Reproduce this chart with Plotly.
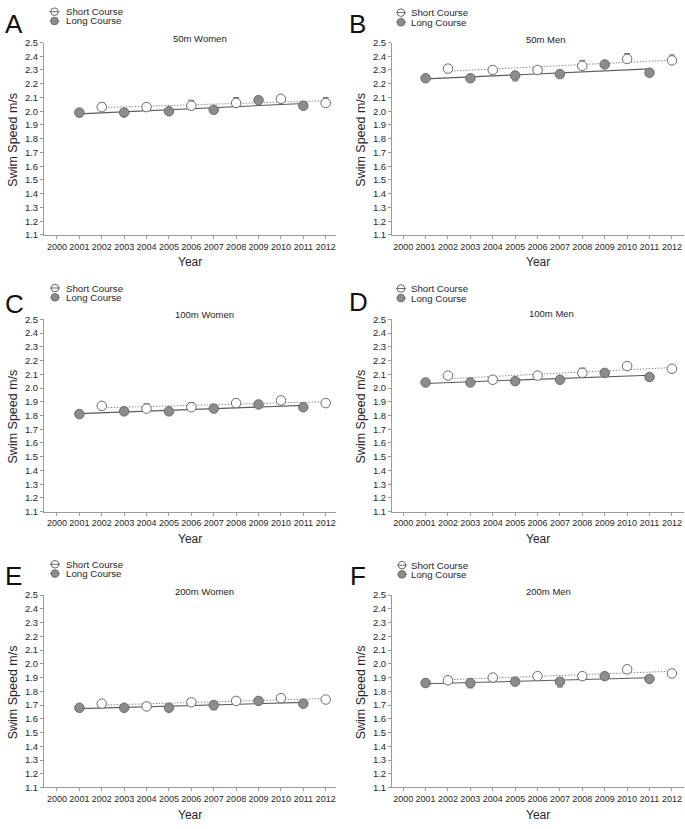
import numpy as np
import plotly.graph_objects as go

W, H = 685, 829

# ---------------- data ----------------
years_short = [2002, 2004, 2006, 2008, 2010, 2012]
years_long = [2001, 2003, 2005, 2007, 2009, 2011]
year_ticks = [2000, 2001, 2002, 2003, 2004, 2005, 2006, 2007, 2008, 2009, 2010, 2011, 2012]
speed_ticks = [1.1, 1.2, 1.3, 1.4, 1.5, 1.6, 1.7, 1.8, 1.9, 2.0, 2.1, 2.2, 2.3, 2.4, 2.5]

panel_letters = ["A", "B", "C", "D", "E", "F"]
panel_titles = ["50m Women", "50m Men", "100m Women", "100m Men", "200m Women", "200m Men"]
series_names = ["Short Course", "Long Course"]

short_50w = [2.03, 2.03, 2.04, 2.06, 2.09, 2.06]
long_50w = [1.99, 1.99, 2.00, 2.01, 2.08, 2.04]
short_50m = [2.31, 2.30, 2.30, 2.33, 2.38, 2.37]
long_50m = [2.24, 2.24, 2.26, 2.27, 2.34, 2.28]
short_100w = [1.87, 1.85, 1.86, 1.89, 1.91, 1.89]
long_100w = [1.81, 1.83, 1.83, 1.85, 1.88, 1.86]
short_100m = [2.09, 2.06, 2.09, 2.11, 2.16, 2.14]
long_100m = [2.04, 2.04, 2.05, 2.06, 2.11, 2.08]
short_200w = [1.71, 1.69, 1.72, 1.73, 1.75, 1.74]
long_200w = [1.68, 1.68, 1.68, 1.70, 1.73, 1.71]
short_200m = [1.88, 1.90, 1.91, 1.91, 1.96, 1.93]
long_200m = [1.86, 1.86, 1.87, 1.87, 1.91, 1.89]

# error values: short course shown upward, long course downward
short_err_50w = [0.03, 0.0, 0.04, 0.04, 0.0, 0.04]
long_err_50w = [0.03, 0.0, 0.0, 0.0, 0.0, 0.0]
short_err_50m = [0.0, 0.0, 0.0, 0.04, 0.04, 0.04]
long_err_50m = [0.0, 0.0, 0.04, 0.0, 0.0, 0.0]
short_err_100w = [0.0, 0.035, 0.035, 0.0, 0.0, 0.0]
long_err_100w = [0.0, 0.0, 0.0, 0.0, 0.0, 0.0]
short_err_100m = [0.0, 0.0, 0.0, 0.035, 0.0, 0.0]
long_err_100m = [0.0, 0.0, 0.0, 0.0, 0.0, 0.0]
short_err_200w = [0.0, 0.0, 0.0, 0.0, 0.0, 0.0]
long_err_200w = [0.0, 0.0, 0.0, 0.035, 0.0, 0.0]
short_err_200m = [0.0, 0.0, 0.0, 0.0, 0.0, 0.0]
long_err_200m = [0.0, 0.035, 0.0, 0.04, 0.0, 0.0]

short_series = [short_50w, short_50m, short_100w, short_100m, short_200w, short_200m]
long_series = [long_50w, long_50m, long_100w, long_100m, long_200w, long_200m]
short_errs = [short_err_50w, short_err_50m, short_err_100w, short_err_100m, short_err_200w, short_err_200m]
long_errs = [long_err_50w, long_err_50m, long_err_100w, long_err_100m, long_err_200w, long_err_200m]

# ---------------- styling / layout ----------------
FONT = "Liberation Sans, Arial, Helvetica, sans-serif"
TXT = "#262626"
AX = "#9a9a9a"
SHORT_LINE = "#8a8a8a"
LONG_LINE = "#5a5a5a"
LONG_FILL = "#8c8c8c"
MARK_EDGE = "#6a6a6a"

col_px = [(44, 336), (392, 684)]
col_range = [[1999.42, 2012.46], [1999.5, 2012.54]]
row_off = [0, 280.5, 560]
plot_top, plot_bot = 37, 232


def fx(px):
    return px / W


def fy(py):
    return 1 - py / H


fig = go.Figure()
layout = dict(
    width=W, height=H,
    margin=dict(l=0, r=0, t=0, b=0),
    paper_bgcolor="white", plot_bgcolor="white",
    showlegend=False,
    font=dict(family=FONT, color=TXT),
)
annotations = []
shapes = []

letter_pos = [(3, 18), (347, 18), (3, 302), (347, 300), (3, 578), (348, 578)]
title_pos = [(200, 33), (546, 34), (204, 313), (551, 312), (204, 593), (548, 593)]
legend_pos = [(54.5, 64.5, 5.8, 15.2), (401, 409.5, 6.7, 16.5), (55, 64.5, 285.8, 295.2),
              (401, 409.5, 286.3, 296), (55, 64.5, 565.8, 575.2), (402, 410, 566.7, 576)]

for i in range(6):
    col, row = i % 2, i // 2
    n = "" if i == 0 else str(i + 1)
    xa, ya = "xaxis" + n, "yaxis" + n
    xr, yr = "x" + n, "y" + n
    off = row_off[row]
    x0, x1 = col_px[col]
    layout[xa] = dict(
        domain=[fx(x0), fx(x1)], range=col_range[col], anchor=yr,
        tickvals=year_ticks, ticktext=[str(v) for v in year_ticks],
        showline=True, linecolor=AX, linewidth=1, ticks="outside", ticklen=3,
        tickcolor=AX, tickfont=dict(size=9, color=TXT, family=FONT),
        showgrid=False, zeroline=False, fixedrange=True,
    )
    layout[ya] = dict(
        domain=[fy(plot_bot + off), fy(plot_top + off)], range=[1.1, 2.5], anchor=xr,
        tickvals=speed_ticks, tickformat=".1f",
        showline=True, linecolor=AX, linewidth=1, ticks="outside", ticklen=3,
        tickcolor=AX, tickfont=dict(size=9.5, color=TXT, family=FONT),
        showgrid=False, zeroline=False, fixedrange=True,
    )

    s_vals, l_vals = short_series[i], long_series[i]
    ps = np.polyfit(years_short, s_vals, 1)
    pl = np.polyfit(years_long, l_vals, 1)
    xs_end = [years_short[0], years_short[-1]]
    xl_end = [years_long[0], years_long[-1]]
    fig.add_trace(go.Scatter(x=xs_end, y=list(np.polyval(ps, xs_end)), mode="lines",
                             line=dict(color=SHORT_LINE, width=1, dash="1.5px,1.5px"),
                             xaxis=xr, yaxis=yr, hoverinfo="skip"))
    fig.add_trace(go.Scatter(x=xl_end, y=list(np.polyval(pl, xl_end)), mode="lines",
                             line=dict(color=LONG_LINE, width=1.1),
                             xaxis=xr, yaxis=yr, hoverinfo="skip"))
    fig.add_trace(go.Scatter(
        x=years_short, y=s_vals, mode="markers", name=series_names[0],
        marker=dict(size=9.5, color="white", line=dict(color=MARK_EDGE, width=1)),
        error_y=dict(type="data", symmetric=False, array=short_errs[i],
                     arrayminus=[0] * len(s_vals), color="#777777", thickness=1, width=3),
        xaxis=xr, yaxis=yr, cliponaxis=False))
    fig.add_trace(go.Scatter(
        x=years_long, y=l_vals, mode="markers", name=series_names[1],
        marker=dict(size=9.5, color=LONG_FILL, line=dict(color=MARK_EDGE, width=1)),
        error_y=dict(type="data", symmetric=False, array=[0] * len(l_vals),
                     arrayminus=long_errs[i], color="#777777", thickness=1, width=3),
        xaxis=xr, yaxis=yr, cliponaxis=False))

    lx, ly = letter_pos[i]
    annotations.append(dict(text=panel_letters[i], x=fx(lx), y=fy(ly), xref="paper", yref="paper",
                            xanchor="left", yanchor="middle", showarrow=False,
                            font=dict(size=26, color="#111111", family=FONT)))
    tx, ty = title_pos[i]
    annotations.append(dict(text=panel_titles[i], x=fx(tx), y=fy(ty), xref="paper", yref="paper",
                            xanchor="center", yanchor="middle", showarrow=False,
                            font=dict(size=9.5, color=TXT, family=FONT)))
    annotations.append(dict(text="Swim Speed m/s", x=fx(x0 - 31), y=fy((plot_top + plot_bot) / 2 + off + 1),
                            xref="paper", yref="paper", xanchor="center", yanchor="middle",
                            textangle=-90, showarrow=False,
                            font=dict(size=12.5, color=TXT, family=FONT)))
    annotations.append(dict(text="Year", x=fx((x0 + x1) / 2), y=fy(plot_bot + off + 27.5),
                            xref="paper", yref="paper", xanchor="center", yanchor="middle",
                            showarrow=False, font=dict(size=12, color=TXT, family=FONT)))
    mx, txx, y_s, y_l = legend_pos[i]
    for name, yy, fill in [(series_names[0], y_s, "white"), (series_names[1], y_l, LONG_FILL)]:
        annotations.append(dict(text=name, x=fx(txx), y=fy(yy), xref="paper", yref="paper",
                                xanchor="left", yanchor="middle", showarrow=False,
                                borderpad=0,
                                font=dict(size=9.7, color=TXT, family=FONT)))
        circ = dict(type="circle", xref="paper", yref="paper", xsizemode="pixel", ysizemode="pixel",
                    xanchor=fx(mx), yanchor=fy(yy), x0=-3.8, x1=3.8, y0=-3.8, y1=3.8,
                    fillcolor=fill, line=dict(color=MARK_EDGE, width=1))
        ln = dict(type="line", xref="paper", yref="paper", xsizemode="pixel", ysizemode="pixel",
                  xanchor=fx(mx), yanchor=fy(yy), x0=-5, x1=5, y0=0, y1=0,
                  line=dict(color=MARK_EDGE, width=1))
        if name == series_names[0]:
            shapes += [circ, ln]
        else:
            shapes += [ln, circ]

layout["annotations"] = annotations
layout["shapes"] = shapes
fig.update_layout(**layout)
fig.write_html(
    "out.html",
    config={"displayModeBar": False},
    post_script="document.body.style.margin='0';document.body.style.padding='0';"
                "document.body.style.overflow='hidden';",
)
